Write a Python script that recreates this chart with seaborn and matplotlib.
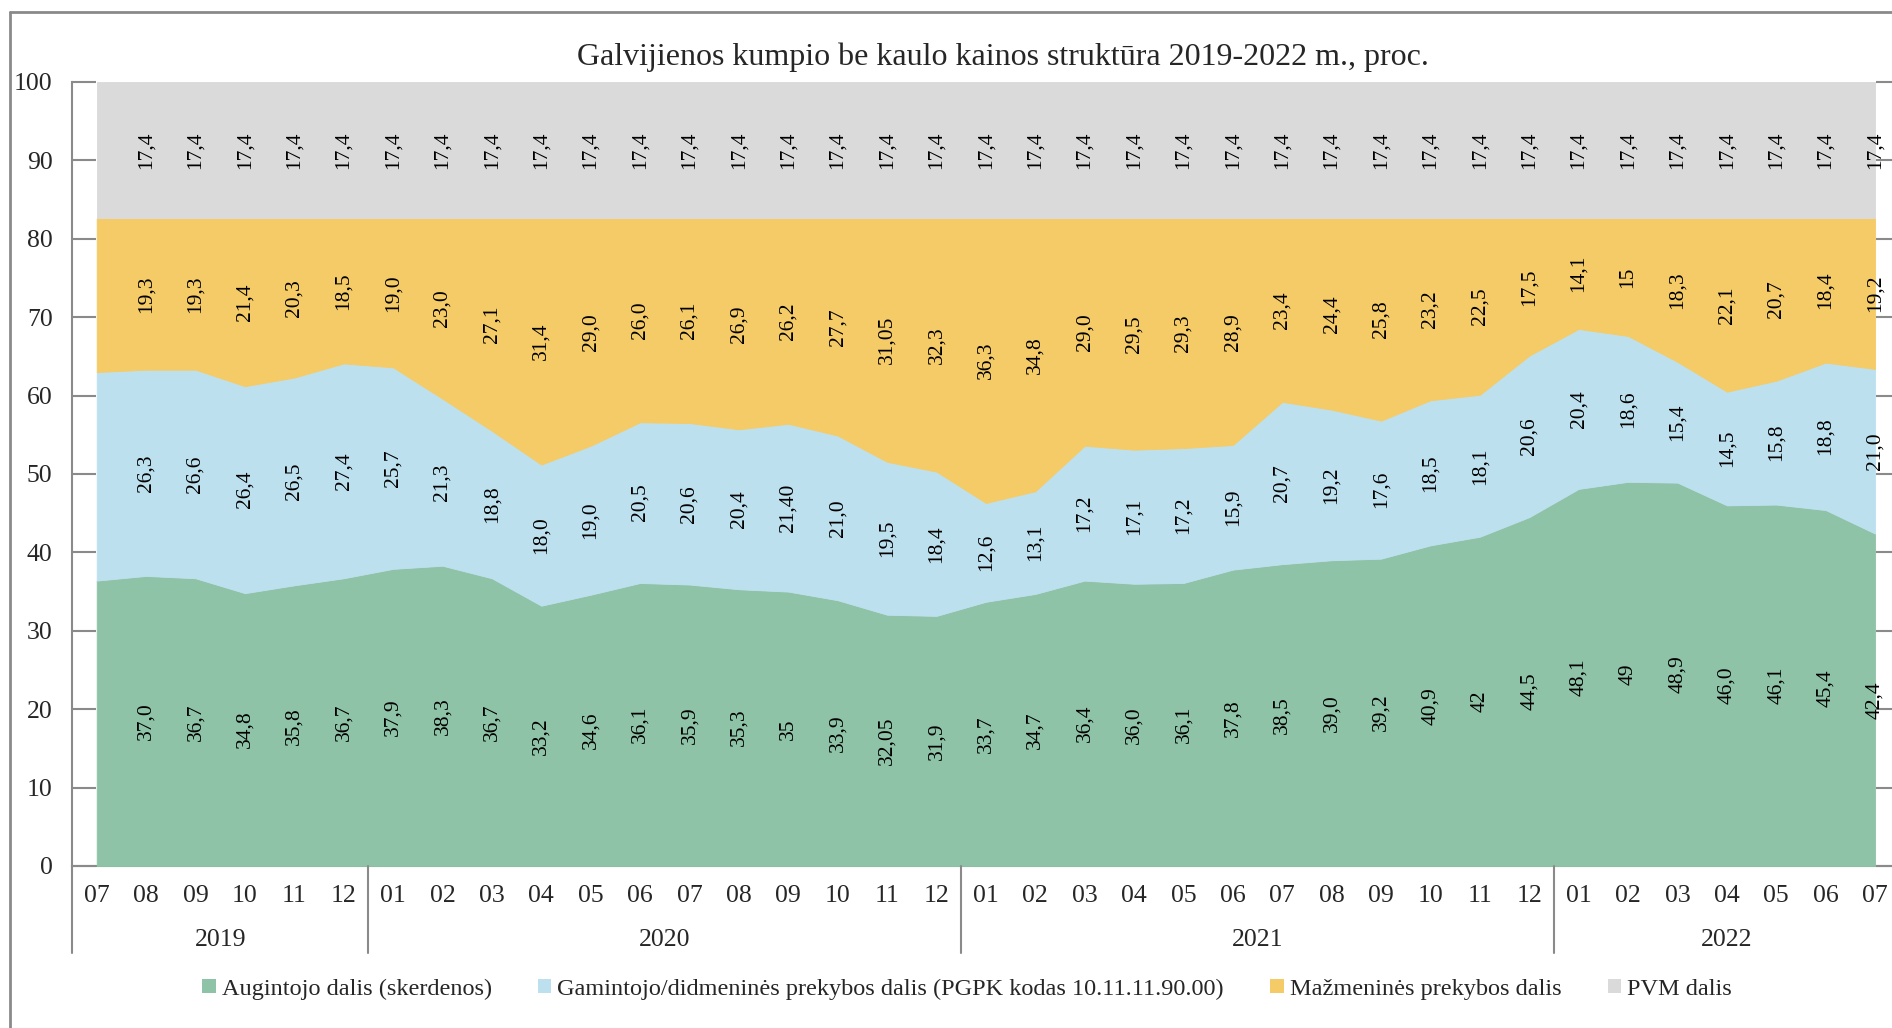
import numpy as np
import matplotlib
matplotlib.use("Agg")
import matplotlib.pyplot as plt
import seaborn as sns
from matplotlib.patches import Patch
from matplotlib.lines import Line2D

# duomenys (pirmas taškas 2019-07 be etikečių)
months = ["07", "08", "09", "10", "11", "12",
          "01", "02", "03", "04", "05", "06", "07", "08", "09", "10", "11", "12",
          "01", "02", "03", "04", "05", "06", "07", "08", "09", "10", "11", "12",
          "01", "02", "03", "04", "05", "06", "07"]
years = ["2019", "2020", "2021", "2022"]
year_start = [0, 6, 18, 30]
year_end = [5, 17, 29, 36]

augintojo = ["36,4", "37,0", "36,7", "34,8", "35,8", "36,7",
             "37,9", "38,3", "36,7", "33,2", "34,6", "36,1", "35,9", "35,3", "35", "33,9", "32,05", "31,9",
             "33,7", "34,7", "36,4", "36,0", "36,1", "37,8", "38,5", "39,0", "39,2", "40,9", "42", "44,5",
             "48,1", "49", "48,9", "46,0", "46,1", "45,4", "42,4"]
gamintojo = ["26,6", "26,3", "26,6", "26,4", "26,5", "27,4",
             "25,7", "21,3", "18,8", "18,0", "19,0", "20,5", "20,6", "20,4", "21,40", "21,0", "19,5", "18,4",
             "12,6", "13,1", "17,2", "17,1", "17,2", "15,9", "20,7", "19,2", "17,6", "18,5", "18,1", "20,6",
             "20,4", "18,6", "15,4", "14,5", "15,8", "18,8", "21,0"]
mazmenine = ["19,6", "19,3", "19,3", "21,4", "20,3", "18,5",
             "19,0", "23,0", "27,1", "31,4", "29,0", "26,0", "26,1", "26,9", "26,2", "27,7", "31,05", "32,3",
             "36,3", "34,8", "29,0", "29,5", "29,3", "28,9", "23,4", "24,4", "25,8", "23,2", "22,5", "17,5",
             "14,1", "15", "18,3", "22,1", "20,7", "18,4", "19,2"]
pvm = ["17,4"] * 37

series_names = ["Augintojo dalis (skerdenos)",
                "Gamintojo/didmeninės prekybos dalis (PGPK kodas 10.11.11.90.00)",
                "Mažmeninės prekybos dalis",
                "PVM dalis"]
colors = ["#8EC3A7", "#BDE0EF", "#F4CB66", "#DADADA"]

sns.set_theme(style="white")
plt.rcParams["font.family"] = ["Liberation Serif", "DejaVu Serif"]

labels_all = [augintojo, gamintojo, mazmenine, pvm]
vals = [np.array([float(s.replace(",", ".")) for s in l]) for l in labels_all]
x = np.arange(len(months))

fig = plt.figure(figsize=(18.92, 10.28), dpi=100)
W, H = 1892, 1028
step = 49.4
ax = fig.add_axes([72 / W, 1 - 866 / H, 37 * step / W, 784 / H])

polys = ax.stackplot(x, *vals, colors=colors, zorder=2)
for p, c in zip(polys, colors):
    p.set_edgecolor(c)
    p.set_linewidth(0.6)

# reikšmių etiketės
bottom = np.zeros(len(x))
for v, lbls in zip(vals, labels_all):
    for i in range(1, len(x)):
        ax.text(x[i], bottom[i] + v[i] / 2, lbls[i], rotation=90, ha="center", va="center",
                fontsize=15.5, color="black", zorder=3)
    bottom = bottom + v

ax.set_xlim(-0.5, 36.5)
ax.set_ylim(0, 100)
ax.set_yticks(range(0, 101, 10))
ax.tick_params(axis="y", which="both", direction="in", length=17, width=1.5, color="#8A8A8A",
               labelsize=18.5, pad=14, left=True, right=True)
ax.set_xticks(x)
ax.set_xticklabels(months)
ax.tick_params(axis="x", length=0, labelsize=18.5, pad=14)

ax.spines["top"].set_visible(False)
for s in ["left", "bottom", "right"]:
    ax.spines[s].set_color("#8A8A8A")
    ax.spines[s].set_linewidth(1.5)
    ax.spines[s].set_zorder(1)

# metų skyrikliai ir užrašai
trans = ax.get_xaxis_transform()
for b in [-0.5, 5.5, 17.5, 29.5, 36.5]:
    ax.add_line(Line2D([b, b], [0, -87 / 784], transform=trans, color="#8A8A8A", lw=1.5, clip_on=False))
for yr, a, b in zip(years, year_start, year_end):
    ax.text((a + b) / 2, -74 / 784, yr, transform=trans, ha="center", va="center", fontsize=18.5)

fig.text(1003 / W, 1 - 57 / H, "Galvijienos kumpio be kaulo kainos struktūra 2019-2022 m., proc.",
         ha="center", va="center", fontsize=23)

handles = [Patch(facecolor=c, edgecolor="none") for c in colors]
fig.legend(handles, series_names, loc="center", bbox_to_anchor=(967 / W, 1 - 989 / H), ncol=4,
           frameon=False, fontsize=17.5, handlelength=0.55, handleheight=0.55, handletextpad=0.25,
           columnspacing=1.9)

# rėmelis
fig.add_artist(Line2D([10 / W, 10 / W], [0, 1 - 12 / H], transform=fig.transFigure, color="#8A8A8A", lw=2))
fig.add_artist(Line2D([10 / W, 1], [1 - 12 / H, 1 - 12 / H], transform=fig.transFigure, color="#8A8A8A", lw=2))

fig.savefig("out.png", dpi=100)
